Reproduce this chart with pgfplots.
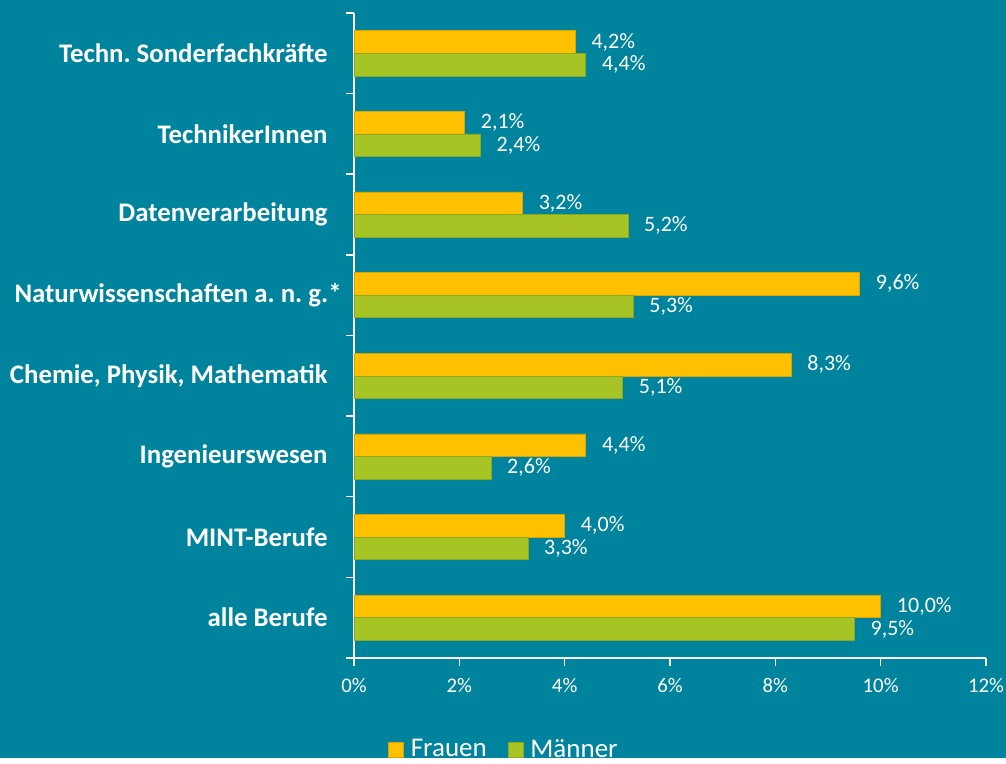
\documentclass[border=0pt]{standalone}
\usepackage{pgfplots}
\pgfplotsset{compat=1.18}
\usepackage{fontspec}
\setmainfont{Carlito}
\definecolor{bgcol}{RGB}{0,132,157}
\definecolor{frauen}{RGB}{255,192,0}
\definecolor{maenner}{RGB}{166,196,35}
\begin{document}
\begin{tikzpicture}[x=1pt,y=1pt]
\fill[bgcol] (0,0) rectangle (503,379);
\begin{axis}[
  at={(177pt,50pt)}, anchor=south west,
  scale only axis,
  width=316pt, height=322.5pt,
  xmin=0, xmax=12, ymin=-0.5, ymax=7.5,
  axis x line*=bottom, axis y line*=left,
  axis line style={white, line width=0.75pt, -},
  xtick={0,2,...,12},
  xticklabels={0\%,2\%,4\%,6\%,8\%,10\%,12\%},
  xticklabel style={font=\fontsize{10.4}{12}\selectfont, text=white, inner sep=0pt, yshift=-6pt},
  ytick={0,...,7},
  yticklabels={alle Berufe, MINT-Berufe, Ingenieurswesen, {Chemie, Physik, Mathematik}, Naturwissenschaften a.\ n.\ g.*\hspace*{-7pt}, Datenverarbeitung, TechnikerInnen, Techn.\ Sonderfachkräfte},
  yticklabel style={font=\fontsize{13.4}{15}\selectfont\bfseries, text=white, inner sep=0pt, xshift=-9pt},
  minor ytick={-0.5,0.5,...,7.5},
  tick align=outside,
  major x tick style={white, line width=0.75pt},
  major tick length=4pt,
  major y tick style={draw=none},
  minor y tick style={white, line width=0.75pt},
  minor tick length=4pt,
  xbar, bar width=0.28,
  nodes near coords={\pgfmathprintnumber[fixed,fixed zerofill,precision=1,use comma,assume math mode=true]{\pgfplotspointmeta}\%},
  nodes near coords style={font=\fontsize{11}{13}\selectfont, text=white, anchor=west, inner sep=0pt, xshift=8pt},
  legend style={at={(0.238,-0.142)}, anchor=center, draw=none, fill=none, text=white, font=\fontsize{13.5}{15}\selectfont, legend columns=2, column sep=0pt, inner sep=0pt,
    nodes={inner sep=1.5pt},
    /tikz/every even column/.append style={column sep=9pt}},
  legend image code/.code={\fill[#1] (0pt,-3.75pt) rectangle (7.5pt,3.75pt); \path (9.5pt,0pt);},
  clip=false,
]
\addplot[fill=frauen, draw=frauen!85!black, line width=0.3pt, bar shift=0.14] coordinates {
(10.0,0) (4.0,1) (4.4,2) (8.3,3) (9.6,4) (3.2,5) (2.1,6) (4.2,7)};
\addlegendentry{Frauen}
\addplot[fill=maenner, draw=maenner!85!black, line width=0.3pt, bar shift=-0.14] coordinates {
(9.5,0) (3.3,1) (2.6,2) (5.1,3) (5.3,4) (5.2,5) (2.4,6) (4.4,7)};
\addlegendentry{Männer}
\end{axis}
\end{tikzpicture}
\end{document}
